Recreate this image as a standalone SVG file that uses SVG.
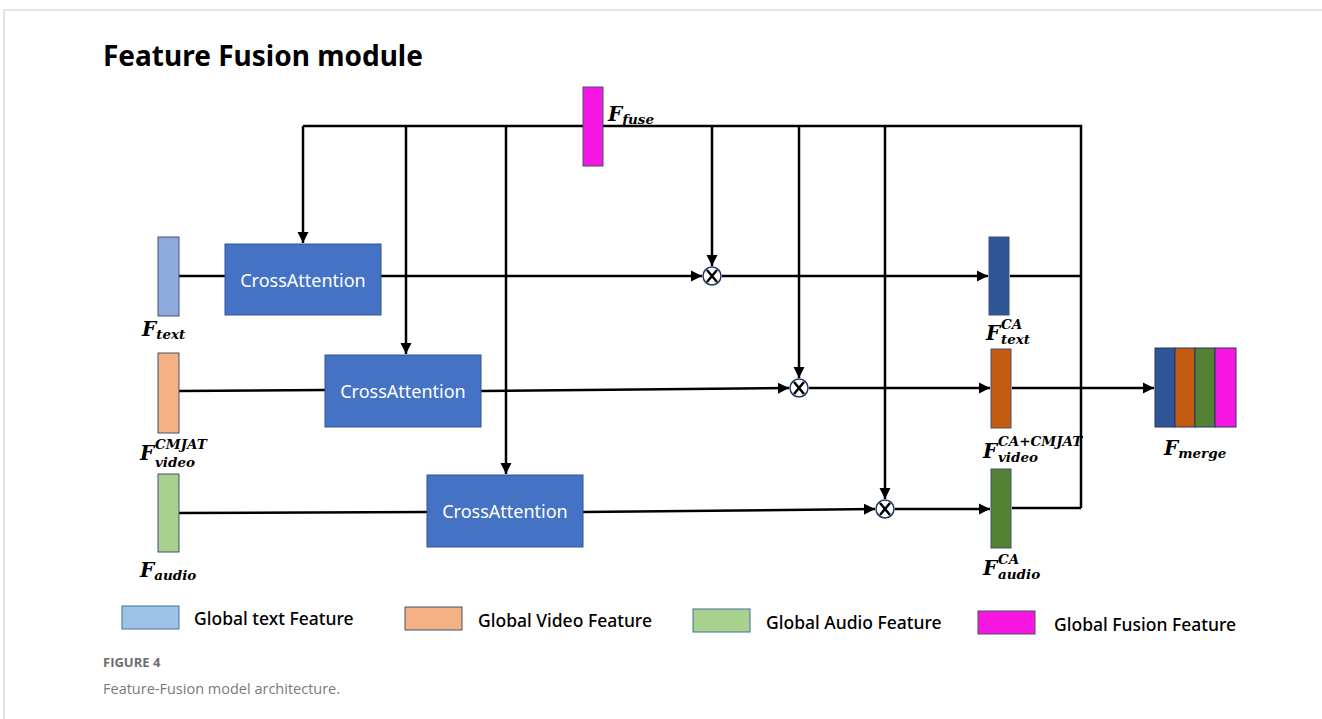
<svg xmlns="http://www.w3.org/2000/svg" width="1322" height="719" viewBox="0 0 1322 719">
<style>
.ln{fill:none;stroke:#000;stroke-width:2.5}
.ca rect{fill:#4472c4;stroke:#2f5597;stroke-width:1}
.ca text{fill:#fff;font-family:"Noto Sans","Open Sans",sans-serif;font-size:18px;text-anchor:middle}
.feat{stroke:#41526b;stroke-width:1}
.m{font-family:"DejaVu Serif","Liberation Serif",serif;font-weight:bold;font-style:italic}
.mF{font-size:20px}
.ms{font-size:13.5px}
.lg{font-family:"Noto Sans","Open Sans",sans-serif;font-size:17.5px;fill:#000;font-weight:500}
.mul circle{fill:#fff;stroke:#203864;stroke-width:1.5}
.mul path{stroke:#000;stroke-width:2.5}
</style>
<defs>
<marker id="ah" viewBox="0 0 10 10" refX="10" refY="5" markerWidth="4.5" markerHeight="4.5" orient="auto" markerUnits="strokeWidth">
<path d="M0,0 L10,5 L0,10 z" fill="#000"/>
</marker>
</defs>
<rect x="0" y="0" width="1322" height="719" fill="#fff"/>
<path d="M4,719 V10 H1322" fill="none" stroke="#c8c8c8" stroke-width="1"/>
<text x="103" y="66" font-family="Noto Sans, Open Sans, sans-serif" font-weight="bold" font-size="28" fill="#000">Feature Fusion module</text>

<g id="connectors">
<path class="ln" d="M303,126 H1081 V508"/>
<path class="ln" d="M303,126 V243" marker-end="url(#ah)"/>
<path class="ln" d="M406,126 V354" marker-end="url(#ah)"/>
<path class="ln" d="M506,126 V474" marker-end="url(#ah)"/>
<path class="ln" d="M712,126 V266" marker-end="url(#ah)"/>
<path class="ln" d="M799,126 V378" marker-end="url(#ah)"/>
<path class="ln" d="M885,126 V499" marker-end="url(#ah)"/>
<path class="ln" d="M179,276 H225"/>
<path class="ln" d="M381,276 H702" marker-end="url(#ah)"/>
<path class="ln" d="M722,276 H988" marker-end="url(#ah)"/>
<path class="ln" d="M1010,276 H1081"/>
<path class="ln" d="M179,391 L325,390"/>
<path class="ln" d="M481,391 L789,388" marker-end="url(#ah)"/>
<path class="ln" d="M809,388 H990" marker-end="url(#ah)"/>
<path class="ln" d="M1012,388 H1154" marker-end="url(#ah)"/>
<path class="ln" d="M179,513 L427,512"/>
<path class="ln" d="M583,512 L875,509" marker-end="url(#ah)"/>
<path class="ln" d="M895,509 H990" marker-end="url(#ah)"/>
<path class="ln" d="M1012,508 H1081"/>
</g>

<g id="F_fuse">
<rect class="feat" x="583" y="87" width="20" height="79" fill="#f716e2"/>
<text class="m" x="608" y="121"><tspan class="mF">F</tspan><tspan class="ms" dy="3">fuse</tspan></text>
</g>

<g id="F_text">
<rect class="feat" x="158" y="237" width="21" height="79" fill="#8faadc"/>
<text class="m" x="142" y="336"><tspan class="mF">F</tspan><tspan class="ms" dy="3">text</tspan></text>
</g>
<g id="F_video">
<rect class="feat" x="158" y="353" width="21" height="80" fill="#f4b183"/>
<text class="m" x="140" y="460"><tspan class="mF">F</tspan><tspan class="ms" x="155" y="449">CMJAT</tspan><tspan class="ms" x="155" y="467">video</tspan></text>
</g>
<g id="F_audio">
<rect class="feat" x="158" y="474" width="21" height="78" fill="#a9d18e"/>
<text class="m" x="140" y="577"><tspan class="mF">F</tspan><tspan class="ms" dy="3">audio</tspan></text>
</g>

<g id="ca1" class="ca"><rect x="225" y="244" width="156" height="71"/><text x="303" y="287">CrossAttention</text></g>
<g id="ca2" class="ca"><rect x="325" y="355" width="156" height="72"/><text x="403" y="398">CrossAttention</text></g>
<g id="ca3" class="ca"><rect x="427" y="475" width="156" height="72"/><text x="505" y="518">CrossAttention</text></g>

<g id="mul1" class="mul"><circle cx="712" cy="276" r="9"/><path d="M707,270 L717,282 M717,270 L707,282"/></g>
<g id="mul2" class="mul"><circle cx="799" cy="388" r="9"/><path d="M794,382 L804,394 M804,382 L794,394"/></g>
<g id="mul3" class="mul"><circle cx="885" cy="509" r="9"/><path d="M880,503 L890,515 M890,503 L880,515"/></g>

<g id="F_text_CA">
<rect class="feat" x="989" y="237" width="20" height="78" fill="#2f5597"/>
<text class="m" x="986" y="340"><tspan class="mF">F</tspan><tspan class="ms" x="1001" y="329">CA</tspan><tspan class="ms" x="1001" y="344">text</tspan></text>
</g>
<g id="F_video_CA">
<rect class="feat" x="991" y="349" width="20" height="79" fill="#c55a11"/>
<text class="m" x="983" y="458"><tspan class="mF">F</tspan><tspan class="ms" x="998" y="446">CA+CMJAT</tspan><tspan class="ms" x="998" y="462">video</tspan></text>
</g>
<g id="F_audio_CA">
<rect class="feat" x="991" y="469" width="20" height="79" fill="#548235"/>
<text class="m" x="983" y="575"><tspan class="mF">F</tspan><tspan class="ms" x="998" y="564">CA</tspan><tspan class="ms" x="998" y="579">audio</tspan></text>
</g>

<g id="F_merge">
<rect x="1155" y="348" width="20" height="79" fill="#2f5597" stroke="#1f3864" stroke-width="1"/>
<rect x="1175" y="348" width="20" height="79" fill="#c55a11" stroke="#1f3864" stroke-width="1"/>
<rect x="1195" y="348" width="20" height="79" fill="#548235" stroke="#1f3864" stroke-width="1"/>
<rect x="1215" y="348" width="21" height="79" fill="#f716e2" stroke="#1f3864" stroke-width="1"/>
<text class="m" x="1164" y="455"><tspan class="mF">F</tspan><tspan class="ms" dy="3">merge</tspan></text>
</g>

<g id="legend">
<rect x="122" y="606" width="57" height="23" fill="#9dc3e6" stroke="#41719c"/>
<text class="lg" x="194" y="625">Global text Feature</text>
<rect x="405" y="607" width="57" height="23" fill="#f4b183" stroke="#41526b"/>
<text class="lg" x="478" y="627">Global Video Feature</text>
<rect x="693" y="609" width="57" height="23" fill="#a9d18e" stroke="#41719c"/>
<text class="lg" x="766" y="629">Global Audio Feature</text>
<rect x="978" y="611" width="57" height="23" fill="#f716e2" stroke="#41526b"/>
<text class="lg" x="1054" y="631">Global Fusion Feature</text>
</g>

<text x="103" y="667" font-family="Open Sans, Noto Sans, sans-serif" font-weight="bold" font-size="13" fill="#6d6d6d">FIGURE 4</text>
<text x="103" y="694" font-family="Open Sans, Noto Sans, sans-serif" font-size="14.5" fill="#7a7a7a">Feature-Fusion model architecture.</text>
</svg>
